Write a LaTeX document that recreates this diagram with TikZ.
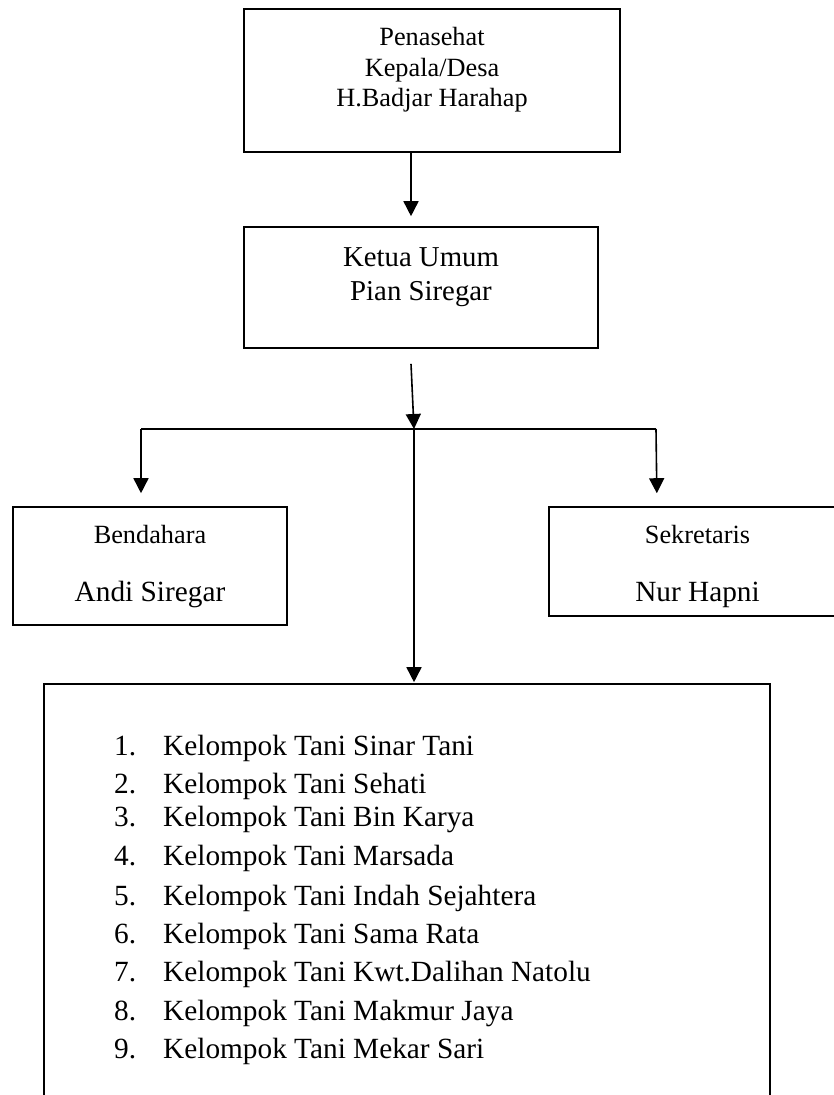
\documentclass[tikz,border=0pt]{standalone}
\usepackage{fontspec}
\setmainfont{Liberation Serif}
\usetikzlibrary{arrows.meta}
\begin{document}
\begin{tikzpicture}[x=1pt,y=-1pt,
  box/.style={draw,line width=1.6pt,inner sep=0pt},
  conn/.style={line width=1.6pt},
  arr/.style={conn,-{Triangle[length=15pt,width=15pt]}},
  small/.style={font=\fontsize{26.3}{31}\selectfont,anchor=mid,yshift=-6.5pt},
  big/.style={font=\fontsize{29.3}{35}\selectfont,anchor=mid,yshift=-6.5pt},
  item/.style={font=\fontsize{29.3}{35}\selectfont,anchor=mid west,inner sep=0pt,yshift=-6.5pt}]
\useasboundingbox (0,0) rectangle (833,1095);
% boxes
\node[box,minimum width=376pt,minimum height=143pt] (pen) at (432,80.5) {};
\node[box,minimum width=354pt,minimum height=121pt] (ket) at (421,287.5) {};
\node[box,minimum width=274pt,minimum height=118pt] (bend) at (150,566) {};
\node[box,minimum width=297pt,minimum height=109pt] (sek) at (697.5,561.5) {};
\node[box,minimum width=726pt,minimum height=430pt] (list) at (407,899) {};
% texts
\node[small] (t1) at (432,37) {Penasehat};
\node[small] (t2) at (432,68) {Kepala/Desa};
\node[small] (t3) at (432,98) {H.Badjar Harahap};
\node[big,font=\fontsize{28.8}{34}\selectfont] (t4) at (421,258) {Ketua Umum};
\node[big,font=\fontsize{28.8}{34}\selectfont] (t5) at (421,292) {Pian Siregar};
\node[small] (t6) at (150,535) {Bendahara};
\node[big] (t7) at (150,593) {Andi Siregar};
\node[small] (t8) at (697.5,535) {Sekretaris};
\node[big] (t9) at (697.5,593) {Nur Hapni};
% list
\foreach \n/\y/\txt in {1/747/Kelompok Tani Sinar Tani,
  2/785/Kelompok Tani Sehati,
  3/818/Kelompok Tani Bin Karya,
  4/857/Kelompok Tani Marsada,
  5/897/Kelompok Tani Indah Sejahtera,
  6/935/Kelompok Tani Sama Rata,
  7/973/Kelompok Tani Kwt.Dalihan Natolu,
  8/1012/Kelompok Tani Makmur Jaya,
  9/1050/Kelompok Tani Mekar Sari}{
  \node[item] (n\n) at (114,\y) {\n.};
  \node[item] (i\n) at (163,\y) {\txt};
}
% connectors
\coordinate (j) at (414,429);
\coordinate (jl) at (141,429);
\coordinate (jr) at (656,429);
\draw[arr,shorten >=10pt] ([xshift=-21pt]pen.south) -- ([xshift=-10pt]ket.north);
\draw[arr] ([xshift=-10pt,yshift=-15pt]ket.south) -- (j);
\draw[conn] (jl) -- (jr);
\draw[arr,shorten >=13pt] (jl) -- (jl |- bend.north);
\draw[arr,shorten >=13pt] (jr) -- ([xshift=1pt]jr |- sek.north);
\draw[arr,shorten >=1pt] (j) -- (j |- list.north);
\end{tikzpicture}
\end{document}
